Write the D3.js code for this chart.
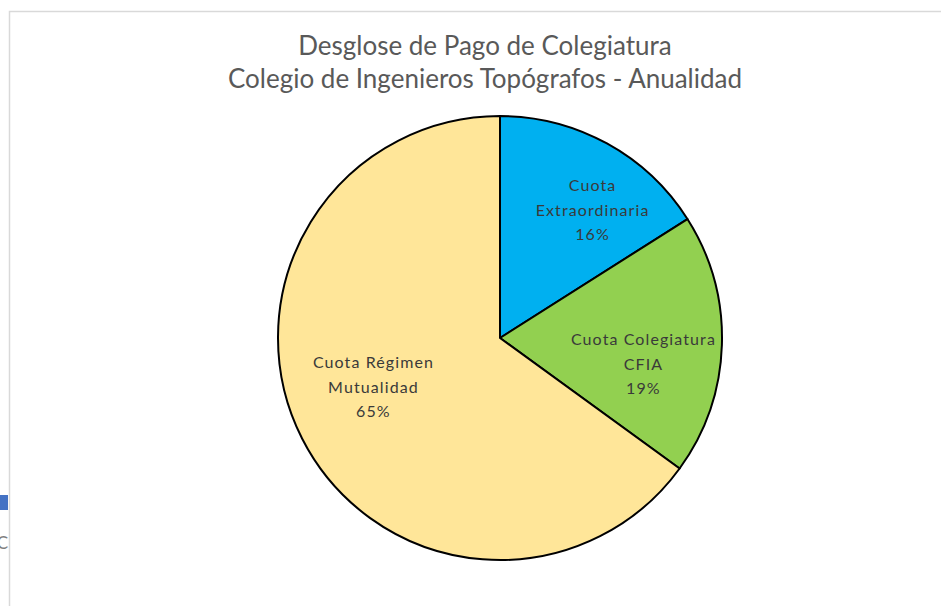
<!DOCTYPE html>
<html>
<head>
<meta charset="utf-8">
<script src="https://cdn.jsdelivr.net/npm/d3@7"></script>
<style>
  body { margin: 0; background: #fff; }
  svg { display: block; }
</style>
</head>
<body>
<div class="chart"></div>
<script>
// chart data
var categories = ["Cuota Extraordinaria", "Cuota Colegiatura CFIA", "Cuota Régimen Mutualidad"];
var labelLines = [["Cuota", "Extraordinaria"], ["Cuota Colegiatura", "CFIA"], ["Cuota Régimen", "Mutualidad"]];
var values = [16, 19, 65];
var colors = ["#00B0F0", "#92D050", "#FFE699"];
var titleLines = ["Desglose de Pago de Colegiatura", "Colegio de Ingenieros Topógrafos - Anualidad"];

var width = 941, height = 606;
var cx = 500, cy = 338, radius = 222;

// small nudges so labels sit like excel's "best fit"
var labelNudge = [[22, 0], [-3, 21], [4, -18]];

var svg = d3.select(".chart")
  .append("svg")
    .attr("width", width)
    .attr("height", height);

// chart area border (partly cut off by screenshot)
svg.append("path")
  .attr("d", "M9.5," + height + "V11.5H" + width)
  .style("fill", "none")
  .style("stroke", "#d9d9d9")
  .style("stroke-width", 1.5);

// bits of neighbouring content on the left edge
svg.append("rect")
  .attr("x", 0).attr("y", 495)
  .attr("width", 8).attr("height", 15)
  .style("fill", "#4472C4");
svg.append("text")
  .attr("x", 8).attr("y", 549)
  .attr("text-anchor", "end")
  .style("font-family", "Lato")
  .style("font-size", "17px")
  .style("fill", "#7f7f7f")
  .text("C");

// title
svg.append("g")
  .selectAll("text")
  .data(titleLines)
  .enter()
  .append("text")
    .attr("x", 485)
    .attr("y", function(d, i) { return 55 + i * 33; })
    .attr("text-anchor", "middle")
    .style("font-family", "Lato")
    .style("font-size", "26px")
    .style("fill", "#595959")
    .text(function(d) { return d; });

var pie = d3.pie()
  .sort(null)
  .value(function(d) { return d; });

var arcs = pie(values);

var arc = d3.arc()
  .innerRadius(0)
  .outerRadius(radius);

var labelArc = d3.arc()
  .innerRadius(radius * 0.66)
  .outerRadius(radius * 0.66);

var g = svg.append("g")
  .attr("transform", "translate(" + cx + "," + cy + ")");

g.selectAll("path")
  .data(arcs)
  .enter()
  .append("path")
    .attr("d", arc)
    .style("fill", function(d, i) { return colors[i]; })
    .style("stroke", "#000")
    .style("stroke-width", 2)
    .style("stroke-linejoin", "round");

var total = d3.sum(values);

var labels = g.selectAll("text")
  .data(arcs)
  .enter()
  .append("text")
    .attr("transform", function(d, i) {
      var c = labelArc.centroid(d);
      return "translate(" + (c[0] + labelNudge[i][0]) + "," + (c[1] + labelNudge[i][1]) + ")";
    })
    .attr("text-anchor", "middle")
    .style("font-family", "Lato")
    .style("font-size", "16px")
    .style("letter-spacing", "1.1px")
    .style("fill", "#3a3a3a");

labels.each(function(d, i) {
  var lines = labelLines[i].concat([Math.round(d.value / total * 100) + "%"]);
  var t = d3.select(this);
  lines.forEach(function(line, j) {
    t.append("tspan")
      .attr("x", 0)
      .attr("y", (j - 1) * 24.5 + 6)
      .text(line);
  });
});
</script>
</body>
</html>
